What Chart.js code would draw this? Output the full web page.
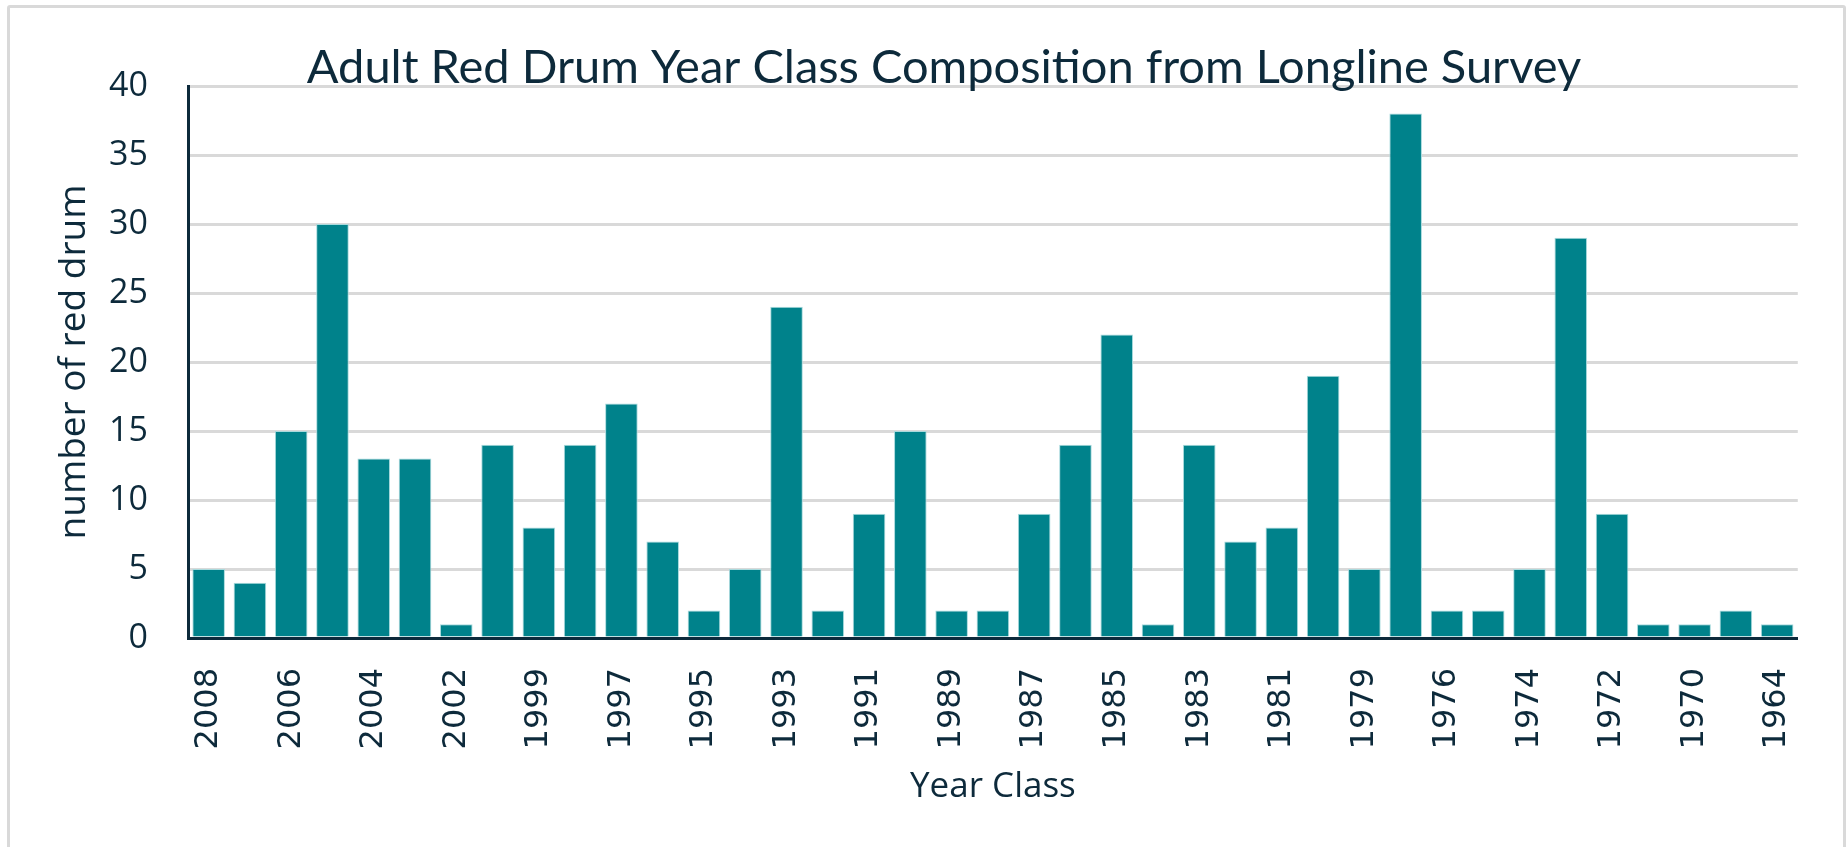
<!DOCTYPE html>
<html><head><meta charset="utf-8">
<script src="https://cdn.jsdelivr.net/npm/chart.js@4.4.1/dist/chart.umd.min.js"></script>
<style>
html,body{margin:0;padding:0;background:#fff;overflow:hidden;}
#wrap{position:relative;width:1846px;height:847px;}
#frame{position:absolute;left:7px;top:5px;width:1833px;height:900px;border:3px solid #d9d9d9;border-radius:3px;pointer-events:none;}
</style></head><body>
<div id="wrap"><canvas id="c" width="1846" height="847"></canvas><div id="frame"></div></div>
<script>
const yearClasses = ['2008','2007','2006','2005','2004','2003','2002','2000','1999','1998','1997','1996','1995','1994','1993','1992','1991','1990','1989','1988','1987','1986','1985','1984','1983','1982','1981','1980','1979','1978','1976','1975','1974','1973','1972','1971','1970','1969','1964'];
const redDrumCounts = [5,4,15,30,13,13,1,14,8,14,17,7,2,5,24,2,9,15,2,2,9,14,22,1,14,7,8,19,5,38,2,2,5,29,9,1,1,2,1];
const shownYearLabels = ['2008','2006','2004','2002','1999','1997','1995','1993','1991','1989','1987','1985','1983','1981','1979','1976','1974','1972','1970','1964'];
const yAxisMin = 0, yAxisMax = 40, yAxisStep = 5;

const ink = '#0d2a3b';
new Chart(document.getElementById('c'), {
  type: 'bar',
  data: {
    labels: yearClasses,
    datasets: [{
      data: redDrumCounts,
      backgroundColor: '#00828b',
      borderColor: '#a9dadd',
      borderWidth: {top:1,left:1,right:1,bottom:0},
      categoryPercentage: 1,
      barPercentage: 0.79
    }]
  },
  options: {
    responsive: false,
    devicePixelRatio: 1,
    animation: false,
    layout: { padding: { left: 77, right: 35, top: 0, bottom: 0 } },
    plugins: {
      legend: { display: false },
      tooltip: { enabled: false },
      title: {
        display: true,
        text: 'Adult Red Drum Year Class Composition from Longline Survey',
        color: ink,
        font: { family: 'Lato', size: 47, weight: 'normal' },
        padding: { top: 40, bottom: -10.4 }
      }
    },
    scales: {
      x: {
        grid: { display: false, drawTicks: false },
        border: { display: true, color: ink, width: 3 },
        ticks: {
          autoSkip: false, minRotation: 90, maxRotation: 90, padding: 30, color: ink,
          font: { family: 'DejaVu Sans', size: 32 },
          callback: function(v) { const l = this.getLabelForValue(v); return shownYearLabels.includes(l) ? l : ''; }
        },
        title: { display: true, text: 'Year Class', color: ink, font: { family: 'Open Sans', size: 35 }, padding: { top: 0, bottom: 39 } },
        afterFit(s) { s.height = 209; }
      },
      y: {
        min: yAxisMin, max: yAxisMax,
        ticks: { stepSize: yAxisStep, padding: 40, color: ink, font: { family: 'Open Sans', size: 34 } },
        grid: { color: '#d9d9d9', lineWidth: 3, drawTicks: false },
        border: { display: true, color: ink, width: 3 },
        title: { display: true, text: 'number of red drum', color: ink, font: { family: 'Open Sans', size: 37 }, padding: { top: -25, bottom: 0 } },
        afterFit(s) { s.width = 111; }
      }
    }
  }
});
</script>
</body></html>
